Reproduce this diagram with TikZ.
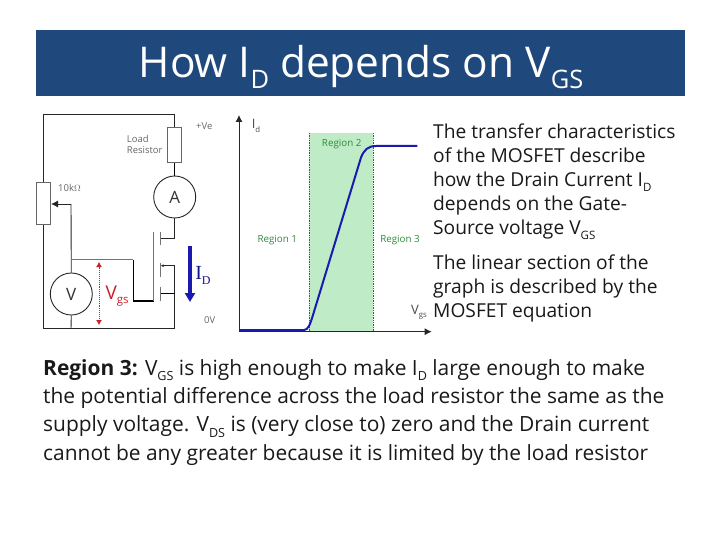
\documentclass[tikz,border=0pt]{standalone}
\usepackage{fontspec}
\setmainfont{Open Sans}
\newfontfamily\serifid{Liberation Serif}
\usetikzlibrary{arrows.meta}
\definecolor{bandblue}{HTML}{1F497D}
\definecolor{regiongreen}{HTML}{BFECC6}
\definecolor{labelgreen}{HTML}{2E8B3A}
\definecolor{curveblue}{HTML}{1A1AB0}
\definecolor{vgsred}{HTML}{C8202A}
\newcommand{\lowsub}[1]{\raisebox{-.25em}{\scalebox{.6}{#1}}}
\tikzset{
  wire/.style={black!85,line width=0.9pt},
  hwire/.style={black,line width=1.4pt},
  gatebar/.style={black!55,line width=1.2pt},
  meter/.style={draw=black!85,line width=0.9pt,circle,minimum size=42pt,inner sep=0pt,font=\fontsize{17}{17}\selectfont,text=black!80},
  resbox/.style={draw=black!60,line width=1pt,fill=white,minimum width=14pt,minimum height=35pt,inner sep=0pt},
  tinylabel/.style={text=black!60,font=\fontsize{9.5}{11}\selectfont,inner sep=0pt,anchor=west,align=left},
  regionlabel/.style={text=labelgreen,font=\fontsize{9.8}{10}\selectfont,inner sep=0pt},
  bodytext/.style={text=black!90,inner sep=0pt,anchor=north west,align=left,font=\fontsize{19.2}{24}\selectfont},
  boundary/.style={draw=labelgreen!80!black,densely dotted,line width=0.7pt}
}
\begin{document}
\begin{tikzpicture}[x=1pt,y=-1pt]
  \useasboundingbox (0,0) rectangle (720,540);
  % title band
  \fill [bandblue] (36,30) rectangle (685,96);
  \node (title) [text=white,inner sep=0pt,font=\fontsize{42.4}{44}\selectfont] at (361,67) {How I\lowsub{D} depends on V\lowsub{GS}};

  % circuit
  \coordinate (topleft) at (43.5,114.5);
  \coordinate (topright) at (174.7,114.5);
  \coordinate (botleft) at (43.5,328.5);
  \coordinate (botright) at (174.7,328.5);
  \coordinate (vtop) at (71,328.5);
  \coordinate (wiperbend) at (71,204);
  \coordinate (gatejoin) at (71,259.7);
  \coordinate (gatebend) at (133.3,259.7);
  \coordinate (gatelow) at (133.3,301);
  \coordinate (gateend) at (153.5,301);
  \coordinate (gatetop) at (153.5,232);
  \coordinate (drainstub) at (160.7,238.5);
  \coordinate (draincorner) at (174.7,238.5);
  \coordinate (sourcestub) at (160.7,265.7);
  \coordinate (sourcecorner) at (174.7,265.7);
  \coordinate (bodystub) at (160.7,293.3);
  \coordinate (bodycorner) at (174.7,293.3);
  \node (rload) [resbox] at (174.7,145.5) {};
  \node (ammeter) [meter] at (174.7,197) {A};
  \node (pot) [resbox,minimum height=42pt] at (43.5,204) {};
  \node (voltmeter) [meter] at (71.3,294) {V};
  \draw [wire] (botleft) -- (pot.south);
  \draw [wire] (pot.north) -- (topleft) -- (topright) -- (rload.north);
  \draw [hwire] (rload.south) -- (ammeter.north);
  \draw [wire] (ammeter.south) -- (draincorner) -- (drainstub);
  \draw [wire,-{Latex[length=7pt,width=7pt]}] (wiperbend) -- (pot.east);
  \draw [wire] (voltmeter.north) -- (wiperbend);
  \draw [wire] (voltmeter.south) -- (vtop);
  \draw [wire] (botleft) -- (botright);
  \draw [gatebar] (gatejoin) -- (gatebend);
  \draw [hwire] (gatebend) -- (gatelow) -- (gateend);
  \draw [gatebar] (gateend) -- (gatetop);
  \draw [gatebar] (160.7,232) -- (160.7,245);
  \draw [gatebar] (160.7,263) -- (160.7,277);
  \draw [gatebar] (160.7,287) -- (160.7,301);
  \draw [wire,-{Latex[length=3pt,width=3pt]}] (sourcecorner) -- (sourcestub);
  \draw [wire] (sourcecorner) -- (botright);
  \draw [hwire] (bodystub) -- (bodycorner);
  \node (loadlabel) [tinylabel] at (126.7,144.5) {Load\\Resistor};
  \node (potlabel) [tinylabel] at (58,187.7) {10k$\Omega$};
  \node (vplus) [tinylabel] at (196,126) {+Ve};
  \node (vzero) [tinylabel] at (204,320) {0V};

  % current and gate voltage
  \coordinate (idtop) at (190,245.5);
  \coordinate (idbot) at (190,302);
  \coordinate (vgstop) at (99,262);
  \coordinate (vgsbot) at (99,325);
  \draw [curveblue,line width=3.8pt,-{Triangle[length=9pt,width=10pt]}] (idtop) -- (idbot);
  \draw [vgsred,densely dotted,line width=0.9pt,{Latex[length=5pt,width=6pt]}-{Latex[length=5pt,width=6pt]}] (vgstop) -- (vgsbot);
  \node (idlabel) [text=curveblue!75!black,inner sep=0pt,font=\serifid\fontsize{20}{20}\selectfont] at (203,275) {I\lowsub{D}};
  \node (vgslabel) [text=vgsred,inner sep=0pt,font=\fontsize{19}{19}\selectfont] at (117,296) {V\lowsub{gs}};

  % graph
  \node (regiontwo) [fill=regiongreen,minimum width=64pt,minimum height=198.4pt,inner sep=0pt] at (341.3,232.5) {};
  \draw [boundary] (regiontwo.north west) -- (regiontwo.south west);
  \draw [boundary] (regiontwo.north east) -- (regiontwo.south east);
  \coordinate (origin) at (239,331.7);
  \coordinate (yend) at (239,115);
  \coordinate (xend) at (431.7,331.7);
  \draw [wire,-{Latex[length=7pt,width=7pt]}] (origin) -- (yend);
  \draw [wire,-{Latex[length=7pt,width=7pt]}] (origin) -- (xend);
  \coordinate (curvestart) at (239,330);
  \coordinate (curveend) at (417.3,146);
  \draw [curveblue,line width=2pt] (curvestart) -- (304,330) .. controls (308,330) and (310,325) .. (313.3,314) -- (361,157.5) .. controls (364,150) and (368,146) .. (376,146) -- (curveend);
  \node (rone) [regionlabel] at (277.3,240) {Region 1};
  \node (rtwo) [regionlabel] at (341.7,144.3) {Region 2};
  \node (rthree) [regionlabel] at (400,240) {Region 3};
  \node (idaxis) [text=black!70,inner sep=0pt,font=\fontsize{13}{13}\selectfont] at (256,126) {I\lowsub{d}};
  \node (vgsaxis) [text=black!70,inner sep=0pt,font=\fontsize{13}{13}\selectfont] at (419,312) {V\lowsub{gs}};

  % text
  \node (parone) [bodytext] at (433,124) {The transfer characteristics\\of the MOSFET describe\\how the Drain Current I\lowsub{D}\\depends on the Gate-\\Source voltage V\lowsub{GS}};
  \node (partwo) [bodytext] at (433,255) {The linear section of the\\graph is described by the\\MOSFET equation};
  \node (parthree) [bodytext,font=\fontsize{20.95}{28.4}\selectfont] at (43,359) {\textbf{Region 3:} V\lowsub{GS} is high enough to make I\lowsub{D} large enough to make\\the potential difference across the load resistor the same as the\\supply voltage. V\lowsub{DS} is (very close to) zero and the Drain current\\cannot be any greater because it is limited by the load resistor};
\end{tikzpicture}
\end{document}
